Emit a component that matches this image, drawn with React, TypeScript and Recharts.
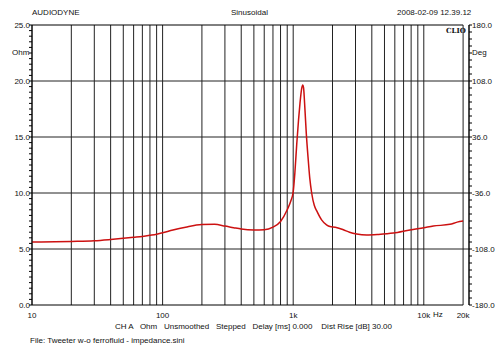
import React from 'react';
import { LineChart, Line, XAxis, YAxis, CartesianGrid, ReferenceLine } from 'recharts';

// impedance sweep (Hz, Ohm)
const freqs = [
  10, 15, 20, 30, 40, 50, 60, 70, 80, 90, 100, 120, 150, 200, 250, 300, 350, 400, 500, 600, 700, 800,
  900, 960, 1000, 1030, 1065, 1100, 1127, 1160, 1183, 1200, 1231, 1260, 1305, 1340, 1385, 1450, 1515,
  1650, 1800, 1914, 2100, 2420, 2700, 3060, 3650, 4500, 5850, 7840, 10000, 11830, 15850, 18000, 20000,
];
const ohms = [
  5.62, 5.65, 5.68, 5.74, 5.85, 5.95, 6.04, 6.12, 6.22, 6.32, 6.45, 6.7, 6.95, 7.18, 7.2, 7.05, 6.9, 6.78,
  6.7, 6.72, 6.95, 7.45, 8.5, 9.3, 10.1, 11.8, 14.4, 16.6, 18.0, 19.3, 19.65, 19.4, 17.4, 15.3, 12.9, 11.3,
  10.0, 8.9, 8.4, 7.6, 7.15, 7.0, 6.95, 6.72, 6.5, 6.34, 6.25, 6.3, 6.42, 6.7, 6.9, 7.05, 7.2, 7.4, 7.5,
];

const xGrid = [
  10, 20, 30, 40, 50, 60, 70, 80, 90, 100, 200, 300, 400, 500, 600, 700, 800, 900, 1000, 2000, 3000, 4000,
  5000, 6000, 7000, 8000, 9000, 10000, 20000,
];
const xLabels: Record<number, string> = { 10: '10', 100: '100', 1000: '1k', 10000: '10k', 20000: '20k' };
const ohmTicks = Array.from({ length: 51 }, (_, i) => i * 0.5);
const degTicks = Array.from({ length: 41 }, (_, i) => -180 + i * 9);

const data = freqs.map((f, i) => ({ f, z: ohms[i], ph: null }));

const font = '"Liberation Sans", Arial, sans-serif';
const txt: React.CSSProperties = { position: 'absolute', fontFamily: font, fontSize: 8, color: '#111', whiteSpace: 'pre', lineHeight: '10px' };

const XTick = (p: any) => {
  const lab = xLabels[p.payload.value];
  if (!lab) return <g />;
  return (
    <text x={p.x} y={p.y + 13} textAnchor="middle" fontSize={8} fontFamily={font} fill="#111">{lab}</text>
  );
};

const LeftTick = (p: any) => {
  const v = p.payload.value;
  const major = v % 5 === 0;
  return (
    <g>
      <line x1={p.x - 3} x2={p.x} y1={p.y} y2={p.y} stroke="#000" strokeWidth={1} />
      {major && (
        <text x={p.x - 2} y={p.y + 3} textAnchor="end" fontSize={8} fontFamily={font} fill="#111">{v.toFixed(1)}</text>
      )}
    </g>
  );
};

const RightTick = (p: any) => {
  const v = p.payload.value;
  const major = (v + 180) % 72 === 0;
  return (
    <g>
      <line x1={p.x} x2={p.x + 3} y1={p.y} y2={p.y} stroke="#000" strokeWidth={1} />
      {major && (
        <text x={p.x + 3} y={p.y + 3} textAnchor="start" fontSize={8} fontFamily={font} fill="#111">{v.toFixed(1)}</text>
      )}
    </g>
  );
};

export default function App() {
  return (
    <div style={{ position: 'absolute', left: 0, top: 0, width: 500, height: 362, background: '#fff' }}>
      <LineChart width={500} height={362} data={data} margin={{ top: 25, right: 0, bottom: 0, left: 0 }}>
        <CartesianGrid stroke="#222" strokeWidth={1} horizontalValues={[5, 10, 15, 20]} />
        <XAxis
          type="number"
          dataKey="f"
          scale="log"
          domain={[10, 22190]}
          ticks={xGrid}
          interval={0}
          allowDataOverflow
          axisLine={false}
          tickLine={false}
          tickSize={0}
          tickMargin={0}
          height={57}
          tick={<XTick />}
        />
        <YAxis
          domain={[0, 25]}
          ticks={ohmTicks}
          interval={0}
          width={32}
          axisLine={{ stroke: '#000' }}
          tickLine={false}
          tickSize={0}
          tickMargin={0}
          tick={<LeftTick />}
        />
        <YAxis
          yAxisId="r"
          orientation="right"
          type="number"
          domain={[-180, 180]}
          allowDataOverflow
          ticks={degTicks}
          interval={0}
          width={31}
          axisLine={{ stroke: '#000' }}
          tickLine={false}
          tickSize={0}
          tickMargin={0}
          tick={<RightTick />}
        />
        <ReferenceLine segment={[{ x: 10, y: 25 }, { x: 20000, y: 25 }]} stroke="#000" ifOverflow="visible" />
        <ReferenceLine segment={[{ x: 10, y: 0 }, { x: 20000, y: 0 }]} stroke="#000" ifOverflow="visible" />
        <Line yAxisId="r" dataKey="ph" stroke="none" dot={false} isAnimationActive={false} />
        <Line
          type="monotone"
          dataKey="z"
          stroke="#cc1111"
          strokeWidth={1.5}
          dot={false}
          isAnimationActive={false}
        />
      </LineChart>
      <div style={{ ...txt, left: 32, top: 8 }}>AUDIODYNE</div>
      <div style={{ ...txt, left: 231, top: 8 }}>Sinusoidal</div>
      <div style={{ ...txt, left: 397, top: 8 }}>2008-02-09 12.39.12</div>
      <div style={{ ...txt, left: 12, top: 48 }}>Ohm</div>
      <div style={{ ...txt, left: 472, top: 48 }}>Deg</div>
      <div style={{ ...txt, left: 446, top: 26, fontFamily: '"DejaVu Serif", serif', fontWeight: 700, fontSize: 7 }}>CLIO</div>
      <div style={{ ...txt, left: 433, top: 310 }}>Hz</div>
      <div style={{ ...txt, left: 115, top: 322 }}>{'CH A   Ohm   Unsmoothed   Stepped   Delay [ms] 0.000    Dist Rise [dB] 30.00'}</div>
      <div style={{ ...txt, left: 30, top: 336 }}>File: Tweeter w-o ferrofluid - impedance.sini</div>
    </div>
  );
}
